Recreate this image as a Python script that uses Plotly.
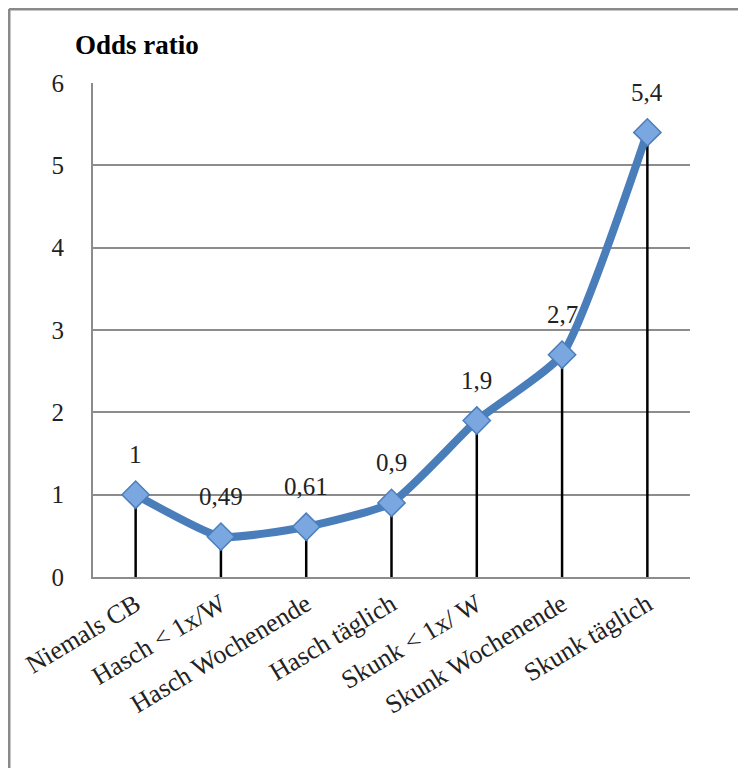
import plotly.graph_objects as go

categories = ["Niemals CB", "Hasch < 1x/W", "Hasch Wochenende", "Hasch täglich",
              "Skunk < 1x/ W", "Skunk Wochenende", "Skunk täglich"]
odds = [1, 0.49, 0.61, 0.9, 1.9, 2.7, 5.4]
labels = ["1", "0,49", "0,61", "0,9", "1,9", "2,7", "5,4"]

# page body adds ~8px offset, margins compensate
W, H = 738, 761
L, R, T, B = 85, 56, 75, 192
SERIF = "Liberation Serif, DejaVu Serif, serif"

fig = go.Figure()
fig.add_trace(go.Scatter(
    x=categories, y=odds, mode="lines+markers",
    line=dict(color="#4A7EBB", width=8, shape="spline", smoothing=0.5),
    marker=dict(symbol="diamond", size=21, color="#7BA7E0",
                line=dict(color="#4A7EBB", width=1.5)),
    error_y=dict(type="data", symmetric=False, array=[0] * len(odds),
                 arrayminus=odds, width=0, thickness=2.5, color="black"),
    cliponaxis=False, showlegend=False,
))

for c, v, t in zip(categories, odds, labels):
    fig.add_annotation(x=c, y=v, text=t, showarrow=False, yshift=40,
                       yanchor="middle",
                       font=dict(family=SERIF, size=25, color="#222222"))

fig.update_yaxes(range=[0, 6], dtick=1, showgrid=True, gridcolor="#8c8c8c", gridwidth=2,
                 showline=True, linecolor="#8c8c8c", linewidth=2, zeroline=False,
                 tickfont=dict(family=SERIF, size=25, color="#222222"), ticks="",
                 ticklabelstandoff=22)
fig.update_xaxes(showline=True, linecolor="#8c8c8c", linewidth=2, showgrid=False,
                 tickangle=-31, tickfont=dict(family=SERIF, size=26, color="#222222"),
                 ticks="", range=[-0.5, 6.5])

pw, ph = W - L - R, H - T - B
fig.add_annotation(text="<b>Odds ratio</b>", xref="paper", yref="paper",
                   x=(65 - L) / pw, y=1 + (T - 37) / ph,
                   xanchor="left", yanchor="middle", showarrow=False,
                   font=dict(family=SERIF, size=27, color="black"))

# frame lines (top and left only, as in the reference)
fx0 = (1 - L) / pw
fy_top = 1 + (T - 1) / ph
fy_bot = -(B - 1) / ph
fig.add_shape(type="line", xref="paper", yref="paper", x0=fx0, x1=1 + R / pw,
              y0=fy_top, y1=fy_top, line=dict(color="#8a8a8a", width=3))
fig.add_shape(type="line", xref="paper", yref="paper", x0=fx0, x1=fx0,
              y0=fy_top, y1=fy_bot, line=dict(color="#8a8a8a", width=3))

fig.update_layout(width=W, height=H, margin=dict(l=L, r=R, t=T, b=B),
                  plot_bgcolor="white", paper_bgcolor="white")
fig.write_html("out.html")
